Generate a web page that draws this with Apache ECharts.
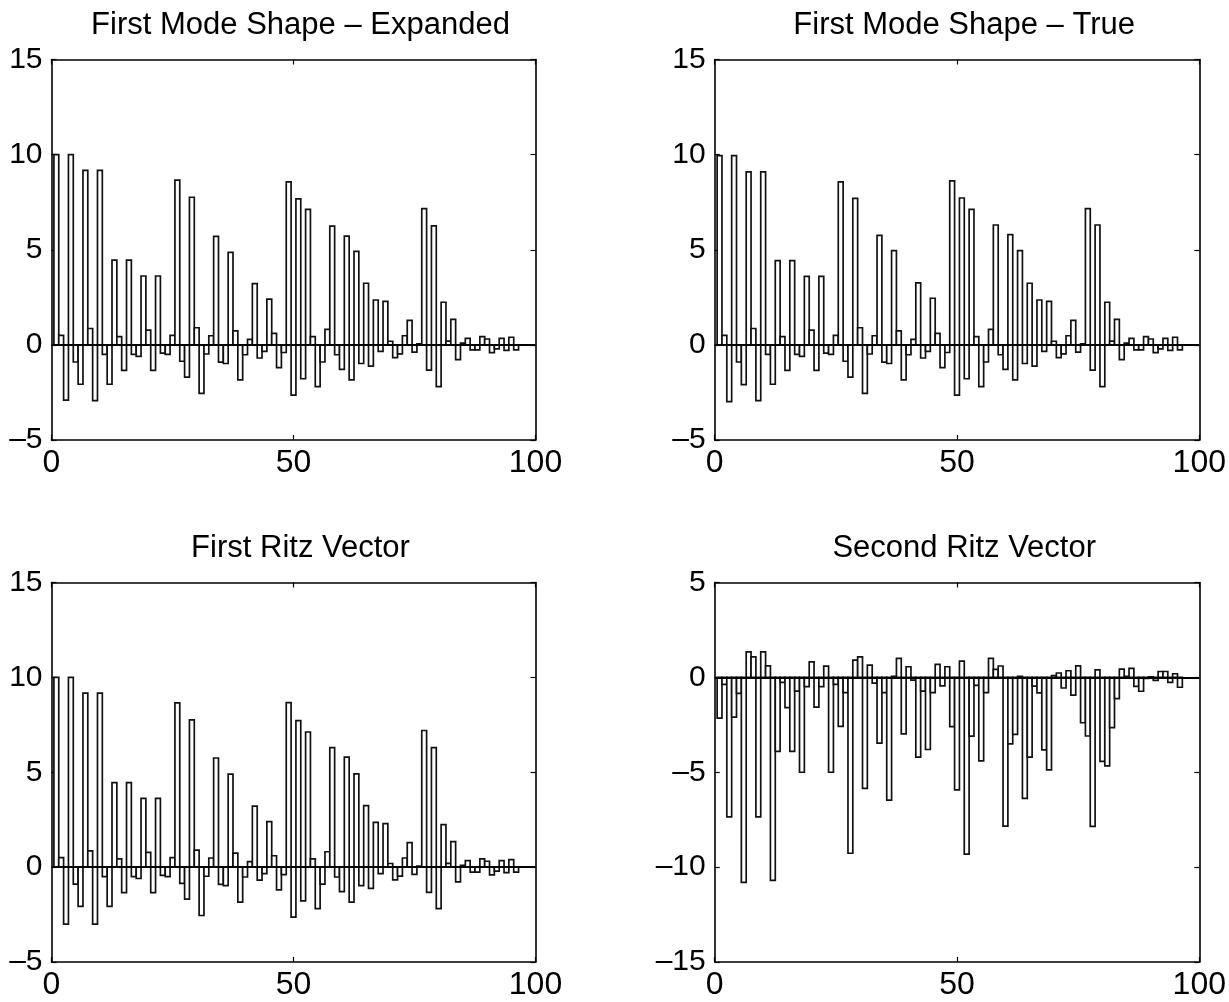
<!DOCTYPE html>
<html><head><meta charset="utf-8">
<script src="https://cdn.jsdelivr.net/npm/echarts@6/dist/echarts.min.js"></script>
<style>html,body{margin:0;padding:0;background:#fff}#c{width:1229px;height:1002px}</style>
</head><body><div id="c"></div>
<script>
// ---- data ----
const panelTitles = ['First Mode Shape \u2013 Expanded', 'First Mode Shape \u2013 True', 'First Ritz Vector', 'Second Ritz Vector'];
const xTicks = [0, 50, 100];
const yRangeMode = [-5, 15];
const yRangeRitz2 = [-15, 5];

const modeExpanded = [
  10.0, 0.5, -2.9, 10.0, -0.9, -2.07, 9.17, 0.86, -2.93, 9.17,
  -0.5, -2.07, 4.45, 0.43, -1.34, 4.45, -0.5, -0.6, 3.62, 0.78,
  -1.34, 3.62, -0.43, -0.5, 0.5, 8.66, -0.86, -1.69, 7.76, 0.9,
  -2.55, -0.48, 0.48, 5.7, -0.91, -0.98, 4.86, 0.74, -1.84, -0.52,
  0.29, 3.22, -0.69, -0.34, 2.4, 0.6, -1.2, -0.4, 8.57, -2.64,
  7.67, -1.78, 7.12, 0.43, -2.19, -0.9, 0.81, 6.24, -0.52, -1.29,
  5.72, -1.84, 4.91, -0.98, 3.24, -1.12, 2.36, -0.34, 2.29, 0.19,
  -0.67, -0.47, 0.48, 1.29, -0.38, 0.05, 7.16, -1.33, 6.26, -2.19,
  2.24, 0.2, 1.34, -0.78, 0.09, 0.34, -0.26, -0.26, 0.43, 0.31,
  -0.41, -0.21, 0.34, -0.29, 0.40, -0.26
];
const modeTrue = [
  9.95, 0.5, -2.98, 9.95, -0.9, -2.09, 9.09, 0.86, -2.93, 9.09,
  -0.5, -2.07, 4.43, 0.43, -1.34, 4.43, -0.5, -0.6, 3.6, 0.78,
  -1.34, 3.6, -0.43, -0.5, 0.5, 8.57, -0.86, -1.69, 7.7, 0.9,
  -2.55, -0.48, 0.48, 5.76, -0.91, -0.98, 4.95, 0.74, -1.84, -0.52,
  0.29, 3.26, -0.69, -0.34, 2.45, 0.6, -1.2, -0.4, 8.62, -2.64,
  7.72, -1.78, 7.12, 0.43, -2.19, -0.9, 0.81, 6.3, -0.52, -1.29,
  5.8, -1.84, 4.95, -0.98, 3.24, -1.12, 2.36, -0.34, 2.29, 0.19,
  -0.67, -0.47, 0.48, 1.29, -0.38, 0.05, 7.16, -1.33, 6.3, -2.19,
  2.24, 0.2, 1.34, -0.78, 0.09, 0.34, -0.26, -0.26, 0.43, 0.31,
  -0.41, -0.21, 0.34, -0.29, 0.40, -0.26
];
const ritz1 = [
  10.0, 0.5, -3.0, 10.0, -0.9, -2.07, 9.17, 0.86, -3.0, 9.17,
  -0.5, -2.07, 4.45, 0.43, -1.34, 4.45, -0.5, -0.6, 3.62, 0.78,
  -1.34, 3.62, -0.43, -0.5, 0.5, 8.66, -0.86, -1.69, 7.76, 0.9,
  -2.55, -0.48, 0.48, 5.75, -0.91, -0.98, 4.9, 0.74, -1.84, -0.52,
  0.29, 3.22, -0.69, -0.34, 2.4, 0.6, -1.2, -0.4, 8.67, -2.64,
  7.72, -1.78, 7.12, 0.43, -2.19, -0.9, 0.81, 6.3, -0.52, -1.29,
  5.8, -1.84, 4.91, -0.98, 3.24, -1.12, 2.36, -0.34, 2.29, 0.19,
  -0.67, -0.47, 0.48, 1.29, -0.38, 0.05, 7.2, -1.33, 6.3, -2.19,
  2.24, 0.2, 1.34, -0.78, 0.09, 0.34, -0.26, -0.26, 0.43, 0.31,
  -0.41, -0.21, 0.34, -0.29, 0.40, -0.26
];
const ritz2 = [
  -2.15, -0.37, -7.35, -2.1, -0.84, -10.8, 1.34, 1.08, -7.35, 1.34,
  0.61, -10.7, -3.9, -0.26, -1.59, -3.9, -0.72, -5.0, -0.49, 0.82,
  -1.57, -0.49, 0.59, -5.0, -0.37, -2.58, -0.8, -9.27, 0.91, 1.08,
  -5.85, 0.65, -0.3, -3.47, -0.8, -6.47, 0.05, 1.0, -2.98, 0.56,
  -0.14, -4.2, -0.72, -3.8, -0.8, 0.68, -0.45, 0.56, -2.6, -5.93,
  0.86, -9.32, -3.1, -0.42, -4.4, -0.8, 1.0, 0.42, 0.6, -7.84,
  -3.5, -3.0, 0.05, -6.38, -4.2, -0.46, -0.82, -3.82, -4.87, 0.1,
  0.23, -0.56, 0.35, -0.94, 0.61, -2.39, -3.09, -7.85, 0.4, -4.43,
  -4.66, -2.65, -1.12, 0.44, 0.05, 0.47, -0.47, -0.73, -0.05, 0.03,
  -0.16, 0.31, 0.31, -0.26, 0.19, -0.52
];

// ---- layout ----
const FONT = '"Liberation Sans", Arial, Helvetica, sans-serif';
const grids = [
  {left: 51.5, top: 59.5, width: 484, height: 380.5},
  {left: 714.7, top: 59.5, width: 485, height: 380.5},
  {left: 51.5, top: 582.5, width: 484, height: 379.5},
  {left: 714.7, top: 582.5, width: 485, height: 379.5}
];
const panelData = [modeExpanded, modeTrue, ritz1, ritz2];
const panelY = [yRangeMode, yRangeMode, yRangeMode, yRangeRitz2];

const fmt = v => String(v).replace('-', '\u2013');
const lineBlack = {show: true, onZero: false, lineStyle: {color: '#000', width: 1.6}};
const tickStyle = {show: true, inside: true, length: 5, lineStyle: {color: '#000', width: 1.2}};

const xAxes = [], yAxes = [], series = [], titles = [];
grids.forEach((g, i) => {
  const common = {type: 'value', gridIndex: i, min: xTicks[0], max: xTicks[xTicks.length - 1], interval: 50,
    axisLine: lineBlack, splitLine: {show: false}, axisTick: tickStyle};
  xAxes.push(Object.assign({}, common, {position: 'bottom',
    axisLabel: {show: true, color: '#000', fontSize: 32, fontFamily: FONT, margin: 7, formatter: fmt}}));
  xAxes.push(Object.assign({}, common, {position: 'top', axisLabel: {show: false}}));
  const yc = {type: 'value', gridIndex: i, min: panelY[i][0], max: panelY[i][1], interval: 5,
    axisLine: lineBlack, splitLine: {show: false}, axisTick: tickStyle};
  yAxes.push(Object.assign({}, yc, {position: 'left',
    axisLabel: {show: true, color: '#000', fontSize: 30, fontFamily: FONT, margin: 9, formatter: fmt}}));
  yAxes.push(Object.assign({}, yc, {position: 'right', axisLabel: {show: false}}));

  series.push({
    type: 'custom', xAxisIndex: 2 * i, yAxisIndex: 2 * i, clip: true,
    data: panelData[i].map((v, k) => [k + 1, v]),
    renderItem: function (params, api) {
      const x = api.value(0), y = api.value(1);
      const p0 = api.coord([x - 0.5, 0]);
      const p1 = api.coord([x + 0.5, y]);
      return {type: 'rect',
        shape: {x: p0[0], y: Math.min(p0[1], p1[1]), width: p1[0] - p0[0], height: Math.abs(p1[1] - p0[1])},
        style: {fill: '#fff', stroke: '#111', lineWidth: 1.7}};
    },
    markLine: {silent: true, symbol: 'none', label: {show: false},
      lineStyle: {color: '#000', width: 1.8, type: 'solid'},
      data: [{yAxis: 0}]},
    z: 2
  });

  titles.push({text: panelTitles[i], left: g.left + g.width / 2 + 2, top: g.top - 55, textAlign: 'center',
    textStyle: {fontSize: 31, fontWeight: 'normal', color: '#000', fontFamily: FONT}});
});

const chart = echarts.init(document.getElementById('c'), null, {renderer: 'canvas'});
chart.setOption({
  backgroundColor: '#fff',
  animation: false,
  title: titles,
  grid: grids.map(g => Object.assign({show: false, containLabel: false}, g)),
  xAxis: xAxes,
  yAxis: yAxes,
  series: series
});
</script></body></html>
